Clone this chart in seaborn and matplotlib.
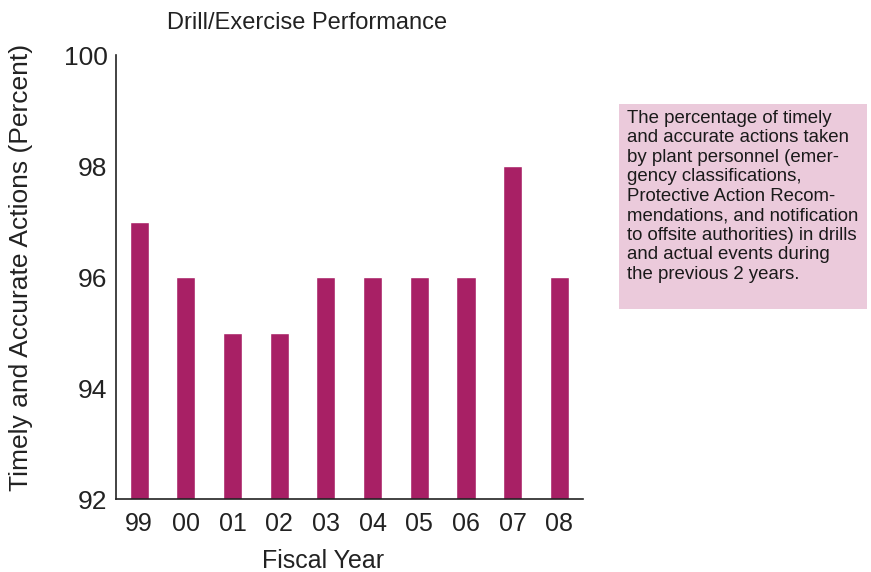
import pandas as pd
import matplotlib
matplotlib.use('Agg')
import matplotlib.pyplot as plt
import seaborn as sns
from matplotlib.patches import Rectangle

# dados
anos = ['99', '00', '01', '02', '03', '04', '05', '06', '07', '08']
desempenho = [97, 96, 95, 95, 96, 96, 96, 96, 98, 96]
yticks = [92, 94, 96, 98, 100]

nota = ("The percentage of timely\n"
        "and accurate actions taken\n"
        "by plant personnel (emer-\n"
        "gency classifications,\n"
        "Protective Action Recom-\n"
        "mendations, and notification\n"
        "to offsite authorities) in drills\n"
        "and actual events during\n"
        "the previous 2 years.")

sns.set_style('white')
plt.rcParams['font.family'] = ['Liberation Sans', 'DejaVu Sans']

df = pd.DataFrame({'ano': anos, 'valor': desempenho})

fig = plt.figure(figsize=(8.71, 5.72), dpi=100)
ax = fig.add_axes([0.133, 0.1276, 0.536, 0.7762])

sns.barplot(data=df, x='ano', y='valor', color='#A82065', saturation=1,
            width=0.41, ax=ax)

ax.set_ylim(92, 100)
ax.set_xlim(-0.5, 9.5)
ax.set_yticks(yticks)
ax.tick_params(axis='y', length=0, labelsize=19, colors='#222222', pad=6)
ax.tick_params(axis='x', length=0, labelsize=18, colors='#222222', pad=9)
ax.set_xlabel('Fiscal Year', fontsize=18, color='#222222', labelpad=10, x=0.443)
ax.set_ylabel('Timely and Accurate Actions (Percent)', fontsize=19,
              color='#222222', labelpad=22, y=0.522)
ax.set_title('Drill/Exercise Performance', fontsize=17, color='#222222',
             pad=19, x=0.41)
sns.despine(ax=ax)
for s in ['left', 'bottom']:
    ax.spines[s].set_color('#222222')
    ax.spines[s].set_linewidth(1.2)

# caixa de texto rosa
fig.patches.append(Rectangle((619 / 871, 1 - 309 / 572), 248 / 871, 205 / 572,
                             transform=fig.transFigure, facecolor='#EBCADB',
                             edgecolor='none', zorder=0))
fig.text(627 / 871, 1 - 110 / 572, nota, fontsize=13.4, color='#1a1a1a',
         va='top', ha='left', linespacing=1.19)

plt.savefig('out.png', dpi=100)
